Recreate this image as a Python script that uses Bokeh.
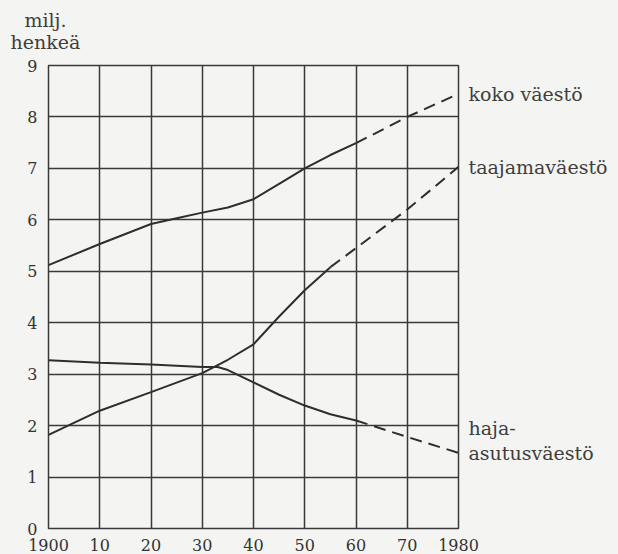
from bokeh.plotting import figure
from bokeh.models import FixedTicker, Range1d
from bokeh.layouts import column, row
from bokeh.embed import file_html
from bokeh.resources import INLINE

# ---- data (million persons) ----
total_years = [1900, 1910, 1920, 1925, 1930, 1935, 1940, 1945, 1950, 1955, 1960, 1970, 1980]
total_vals  = [5.12, 5.53, 5.92, 6.03, 6.14, 6.24, 6.40, 6.70, 7.00, 7.26, 7.49, 8.00, 8.45]
total_proj_from = 1960

urban_years = [1900, 1910, 1920, 1930, 1935, 1940, 1945, 1950, 1955, 1960, 1970, 1980]
urban_vals  = [1.82, 2.29, 2.65, 3.02, 3.28, 3.58, 4.12, 4.63, 5.08, 5.45, 6.20, 7.03]
urban_proj_from = 1955

rural_years = [1900, 1910, 1920, 1930, 1933, 1935, 1940, 1945, 1950, 1955, 1960, 1970, 1980]
rural_vals  = [3.27, 3.22, 3.19, 3.14, 3.14, 3.08, 2.84, 2.60, 2.39, 2.22, 2.10, 1.78, 1.47]
rural_proj_from = 1960

x_ticks = [1900, 1910, 1920, 1930, 1940, 1950, 1960, 1970, 1980]
x_tick_labels = ["1900", "10", "20", "30", "40", "50", "60", "70", "1980"]
y_ticks = [0, 1, 2, 3, 4, 5, 6, 7, 8, 9]

series_labels = ["koko väestö", "taajamaväestö", "haja-", "asutusväestö"]
unit_labels = ["milj.", "henkeä"]

# ---- styling ----
BG = "#f4f4f2"
INK = "#2e2e2e"
GRID = "#3a3a3a"
TXT = "#3e3e3e"
FONT = "DejaVu Serif"
LBL_SIZE = "19px"

y_range = Range1d(0, 9)

# main chart
p = figure(width=480, height=502,
           x_range=Range1d(1900, 1980), y_range=y_range,
           output_backend="svg", toolbar_location=None,
           min_border_left=48, min_border_right=22,
           min_border_top=13, min_border_bottom=26)

p.background_fill_color = BG
p.border_fill_color = BG
p.outline_line_color = GRID
p.outline_line_width = 1.5

for ax in (p.xaxis[0], p.yaxis[0]):
    ax.axis_line_color = None
    ax.major_tick_line_color = None
    ax.minor_tick_line_color = None
    ax.major_label_text_font = FONT
    ax.major_label_text_font_size = "16px"
    ax.major_label_text_color = "#333333"

p.xaxis.ticker = FixedTicker(ticks=x_ticks)
p.xaxis.major_label_overrides = {t: l for t, l in zip(x_ticks, x_tick_labels)}
p.xaxis.major_label_standoff = 4
p.yaxis.ticker = FixedTicker(ticks=y_ticks)
p.yaxis.major_label_standoff = 5

for g in (p.xgrid[0], p.ygrid[0]):
    g.grid_line_color = GRID
    g.grid_line_width = 1.5
    g.grid_line_alpha = 1.0


def draw(years, vals, proj_from):
    sx = [x for x in years if x <= proj_from]
    sy = [v for x, v in zip(years, vals) if x <= proj_from]
    dx = [x for x in years if x >= proj_from]
    dy = [v for x, v in zip(years, vals) if x >= proj_from]
    p.line(sx, sy, line_color=INK, line_width=2)
    p.line(dx, dy, line_color=INK, line_width=2, line_dash="12 7")


draw(total_years, total_vals, total_proj_from)
draw(urban_years, urban_vals, urban_proj_from)
draw(rural_years, rural_vals, rural_proj_from)

# right-hand panel with series names, sharing the y scale (transparent,
# slightly overlapping the main chart's right border)
side = figure(width=150, height=502, x_range=Range1d(0, 1), y_range=y_range,
              output_backend="svg", toolbar_location=None,
              x_axis_location=None, y_axis_location=None,
              min_border_left=0, min_border_right=0,
              min_border_top=13, min_border_bottom=26)
side.margin = (0, 0, 0, -12)
side.background_fill_alpha = 0
side.border_fill_alpha = 0
side.outline_line_color = None
side.xgrid.visible = False
side.ygrid.visible = False
side.text(x=[0, 0, 0, 0],
          y=[total_vals[-1], urban_vals[-1], rural_vals[-1], rural_vals[-1]],
          text=series_labels, x_offset=0, y_offset=[0, 0, -25, 0],
          text_font={"value": FONT}, text_font_size={"value": LBL_SIZE},
          text_color=TXT, text_align="left", text_baseline="middle")

# top panel with the unit label
top = figure(width=618, height=52, x_range=Range1d(0, 1), y_range=Range1d(0, 1),
             output_backend="svg", toolbar_location=None,
             x_axis_location=None, y_axis_location=None,
             min_border=0)
top.background_fill_color = BG
top.border_fill_color = BG
top.outline_line_color = None
top.xgrid.visible = False
top.ygrid.visible = False
top.text(x=[0, 0], y=[1, 1], text=unit_labels, x_offset=45, y_offset=[19, 41],
         text_font={"value": FONT}, text_font_size={"value": LBL_SIZE},
         text_color=TXT, text_align="center", text_baseline="alphabetic")

layout = column(top, row(p, side, spacing=0), spacing=0,
                styles={"background-color": BG})

open("out.html", "w").write(file_html(layout, INLINE))
